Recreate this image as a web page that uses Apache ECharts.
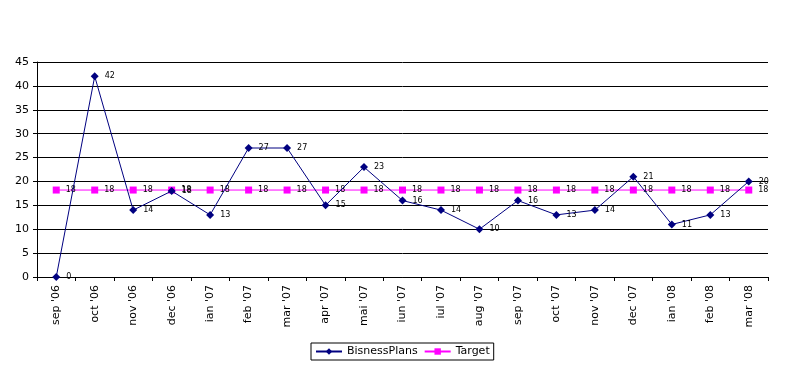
<!DOCTYPE html>
<html><head><meta charset="utf-8">
<script src="https://cdn.jsdelivr.net/npm/echarts@6/dist/echarts.min.js"></script>
<style>html,body{margin:0;padding:0;background:#fff}#c{width:802px;height:390px}</style>
</head><body><div id="c"></div>
<script>
const categories = ["sep '06","oct '06","nov '06","dec '06","ian '07","feb '07","mar '07","apr '07","mai '07","iun '07","iul '07","aug '07","sep '07","oct '07","nov '07","dec '07","ian '08","feb '08","mar '08"];
const bisnessPlans = [0,42,14,18,13,27,27,15,23,16,14,10,16,13,14,21,11,13,20];
const target = [18.2,18.2,18.2,18.2,18.2,18.2,18.2,18.2,18.2,18.2,18.2,18.2,18.2,18.2,18.2,18.2,18.2,18.2,18.2];
const yTicks = {min:0,max:45,interval:5};

const chart = echarts.init(document.getElementById('c'));
const font = 'DejaVu Sans, Verdana, sans-serif';
const lbl = {show:true,position:'right',distance:6,fontSize:8,fontFamily:font,color:'#000',formatter:p=>Math.round(p.value)};
chart.setOption({
  animation:false,
  backgroundColor:'#fff',
  grid:{left:37,right:34,top:62,bottom:113,containLabel:false},
  legend:{
    top:343,left:311,itemWidth:26,itemHeight:8,itemGap:6,
    borderColor:'#000',borderWidth:1,padding:[3,4,3,4],
    textStyle:{fontFamily:font,fontSize:11,color:'#000'},
    data:['BisnessPlans','Target']
  },
  xAxis:{type:'category',data:categories,boundaryGap:true,
    axisLine:{lineStyle:{color:'#000',width:1}},
    axisTick:{show:true,length:4,interval:0,lineStyle:{color:'#000'}},
    axisLabel:{rotate:90,interval:0,fontFamily:font,fontSize:11,color:'#000',margin:8},
    splitLine:{show:false}},
  yAxis:{type:'value',min:yTicks.min,max:yTicks.max,interval:yTicks.interval,
    axisLine:{show:true,lineStyle:{color:'#000'}},
    axisTick:{show:true,length:4,lineStyle:{color:'#000'}},
    axisLabel:{fontFamily:font,fontSize:11,color:'#000',margin:8},
    splitLine:{lineStyle:{color:'#000',width:1}}},
  series:[
    {name:'BisnessPlans',type:'line',data:bisnessPlans,symbol:'diamond',symbolSize:8,
     itemStyle:{color:'#000080'},lineStyle:{color:'#000080',width:1},label:lbl,z:3},
    {name:'Target',type:'line',data:target,symbol:'rect',symbolSize:7,
     itemStyle:{color:'#ff00ff'},lineStyle:{color:'#ff00ff',width:1},label:lbl,z:2}
  ]
});
</script></body></html>
